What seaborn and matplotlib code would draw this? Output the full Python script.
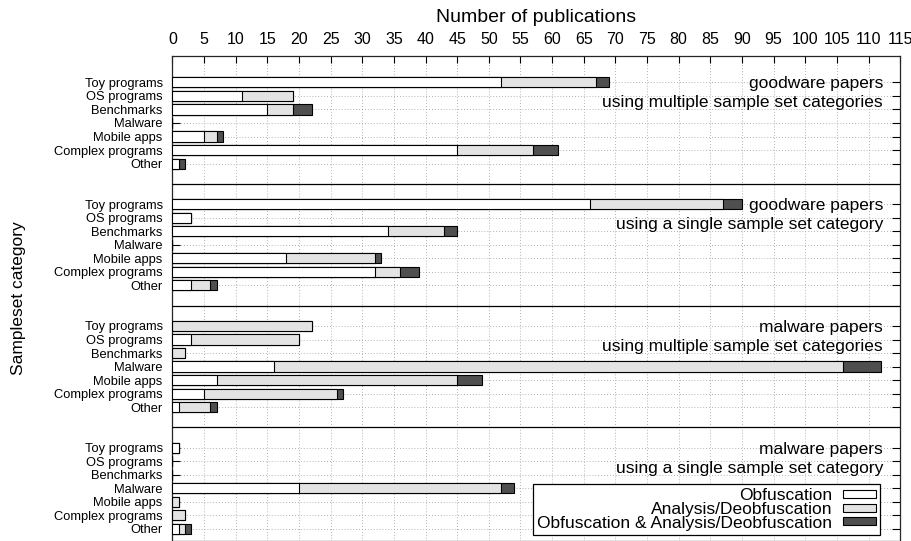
import pandas as pd
import numpy as np
import matplotlib
matplotlib.use('Agg')
import matplotlib.pyplot as plt
from matplotlib.patches import Patch
import seaborn as sns

# data (number of publications)
categories = ['Toy programs', 'OS programs', 'Benchmarks', 'Malware',
              'Mobile apps', 'Complex programs', 'Other']
panels = ['goodware papers\nusing multiple sample set categories',
          'goodware papers\nusing a single sample set category',
          'malware papers\nusing multiple sample set categories',
          'malware papers\nusing a single sample set category']

obfuscation = [[52, 11, 15, 0, 5, 45, 1],
               [66, 3, 34, 0, 18, 32, 3],
               [0, 3, 0, 16, 7, 5, 1],
               [1, 0, 0, 20, 0, 0, 1]]
analysis = [[15, 8, 4, 0, 2, 12, 0],
            [21, 0, 9, 0, 14, 4, 3],
            [22, 17, 2, 90, 38, 21, 5],
            [0, 0, 0, 32, 1, 2, 1]]
both = [[2, 0, 3, 0, 1, 4, 1],
        [3, 0, 2, 0, 1, 3, 1],
        [0, 0, 0, 6, 4, 1, 1],
        [0, 0, 0, 2, 0, 0, 1]]

series_names = ['Obfuscation', 'Analysis/Deobfuscation',
                'Obfuscation & Analysis/Deobfuscation']
colors = ['white', '#e3e3e3', '#4f4f4f']

# long table, one row per bar, stacked by cumulative sums
rows = []
for g in range(len(panels)):
    for r, cat in enumerate(categories):
        o, a, b = obfuscation[g][r], analysis[g][r], both[g][r]
        rows.append({'pos': g * 9 + r, 'category': cat,
                     'obf': o, 'obf_ana': o + a, 'total': o + a + b})
DF = pd.DataFrame(rows)

sns.set_style('ticks')
plt.rcParams['font.family'] = ['Liberation Sans', 'DejaVu Sans']
for k in ['text.color', 'axes.labelcolor', 'xtick.color', 'ytick.color']:
    plt.rcParams[k] = 'black'

fig, ax = plt.subplots(figsize=(9.12, 5.41), dpi=100)
fig.subplots_adjust(left=0.189, right=0.987, top=0.8965, bottom=0)

# draw from the longest layer to the shortest so they stack visually
for col, c in zip(['total', 'obf_ana', 'obf'], colors[::-1]):
    sns.barplot(data=DF, x=col, y='pos', orient='y', native_scale=True,
                width=0.75, color=c, saturation=1, edgecolor='black',
                linewidth=0.8, errorbar=None, ax=ax, zorder=3)

# group separators
for g in range(1, len(panels)):
    ax.axhline(g * 9 - 1.5, color='black', lw=0.9, zorder=4)

# panel captions
for g, txt in enumerate(panels):
    l1, l2 = txt.split('\n')
    ax.text(112.3, g * 9 + 0.1, l1, ha='right', va='center', fontsize=12.5, zorder=5)
    ax.text(112.3, g * 9 + 1.5, l2, ha='right', va='center', fontsize=12.5, zorder=5)

ax.set_xlim(0, 115)
ax.set_ylim(33.89, -1.95)
ax.set_xticks(np.arange(0, 116, 5))
ax.set_yticks(DF['pos'])
ax.set_yticklabels(DF['category'], fontsize=9.3)
ax.xaxis.tick_top()
ax.xaxis.set_label_position('top')
ax.tick_params(axis='x', direction='in', length=5, width=0.8, pad=6.5,
               labelsize=11.5, top=True, bottom=False)
ax.tick_params(axis='y', direction='in', length=5.5, width=0.8, pad=7,
               left=True, right=True)
ax.set_xlabel('Number of publications', fontsize=14, labelpad=7)
ax.set_ylabel('Sampleset category', fontsize=12.5)
ax.yaxis.set_label_coords(-0.201, 0.5)

ax.grid(True, linestyle=(0, (1, 2.5)), color='#999999', linewidth=0.6)
ax.set_axisbelow(True)
for s in ax.spines.values():
    s.set_linewidth(0.9)
    s.set_visible(True)

handles = [Patch(facecolor=c, edgecolor='black', linewidth=0.8) for c in colors]
leg = ax.legend(handles, series_names, loc='lower right',
                bbox_to_anchor=(0.9725, 0.0125), borderaxespad=0,
                markerfirst=False, fontsize=12.5, frameon=True, fancybox=False,
                framealpha=1, edgecolor='black', handlelength=1.9,
                handleheight=0.35, handletextpad=0.6, labelspacing=-0.08,
                borderpad=0.25)
leg.get_frame().set_linewidth(0.9)
leg.set_zorder(6)

plt.savefig('out.png', dpi=100)
